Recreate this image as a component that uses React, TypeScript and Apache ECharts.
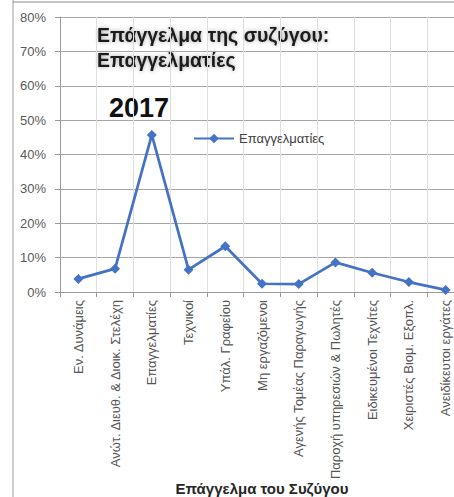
import React, { useEffect, useRef } from "react";
import * as echarts from "echarts";

const categories = [
  "Εν. Δυνάμεις",
  "Ανώτ. Διευθ. & Διοικ. Στελέχη",
  "Επαγγελματίες",
  "Τεχνικοί",
  "Υπάλ. Γραφείου",
  "Μη εργαζόμενοι",
  "Αγενής Τομέας Παραγωγής",
  "Παροχή υπηρεσιών & Πωλητές",
  "Ειδικευμένοι Τεχνίτες",
  "Χειριστές Βιομ. Εξοπλ.",
  "Ανειδίκευτοι εργάτες",
];
const seriesName = "Επαγγελματίες";
const values = [3.8, 6.8, 45.7, 6.5, 13.3, 2.4, 2.3, 8.6, 5.6, 2.9, 0.6];
const titleLines = ["Επάγγελμα της συζύγου:", "Επαγγελματίες"];
const yearLabel = "2017";
const xAxisName = "Επάγγελμα του Συζύγου";

export default function App() {
  const ref = useRef<HTMLDivElement>(null);
  useEffect(() => {
    document.body.style.margin = "0";
    document.body.style.overflow = "hidden";
    document.documentElement.style.overflow = "hidden";
    const chart = echarts.init(ref.current!, undefined, { renderer: "svg" });
    const font = "'Liberation Sans', Arial, sans-serif";
    chart.setOption({
      animation: false,
      backgroundColor: "#ffffff",
      textStyle: { fontFamily: font },
      grid: {
        left: 60,
        right: 0,
        top: 17,
        bottom: 205,
        containLabel: false,
        outerBoundsMode: "none",
      },
      legend: {
        left: 188,
        top: 127,
        itemWidth: 40,
        itemHeight: 12,
        itemGap: 4,
        textStyle: { fontSize: 13, color: "#404040", fontFamily: font },
        data: [seriesName],
      },
      xAxis: {
        type: "category",
        data: categories,
        boundaryGap: true,
        name: xAxisName,
        nameLocation: "middle",
        nameGap: 189,
        nameMoveOverlap: false,
        nameTextStyle: { fontSize: 15, fontWeight: "bold", color: "#262626", fontFamily: font },
        axisLine: { lineStyle: { color: "#9a9a9a", width: 1 } },
        axisTick: { show: true, length: 5, alignWithLabel: false, lineStyle: { color: "#9a9a9a" } },
        splitLine: { show: true, lineStyle: { color: "#dedede", width: 1 } },
        axisLabel: {
          rotate: 90,
          interval: 0,
          margin: 8,
          fontSize: 13,
          color: "#555555",
          fontFamily: font,
        },
      },
      yAxis: {
        type: "value",
        min: 0,
        max: 80,
        interval: 10,
        axisLine: { show: true, lineStyle: { color: "#9a9a9a" } },
        axisTick: { show: true, length: 5, lineStyle: { color: "#9a9a9a" } },
        splitLine: { show: true, lineStyle: { color: "#a6a6a6", width: 1 } },
        axisLabel: {
          formatter: "{value}%",
          fontSize: 13,
          color: "#595959",
          margin: 14,
          fontFamily: font,
        },
      },
      series: [
        {
          name: seriesName,
          type: "line",
          data: values,
          symbol: "diamond",
          symbolSize: 10,
          lineStyle: { color: "#4472c4", width: 2.75 },
          itemStyle: { color: "#4472c4" },
        },
      ],
      graphic: [
        { type: "line", shape: { x1: 13, y1: 0, x2: 13, y2: 497 }, style: { stroke: "#9a9a9a", lineWidth: 1 }, silent: true },
        { type: "line", shape: { x1: 13, y1: 2, x2: 464, y2: 2 }, style: { stroke: "#8a8a8a", lineWidth: 1 }, silent: true },
        {
          type: "text",
          left: 97,
          top: 25,
          style: {
            text: titleLines[0],
            fontSize: 19.5,
            fontWeight: "bold",
            fill: "#1a1a1a",
            fontFamily: font,
            textShadowColor: "rgba(0,0,0,0.35)",
            textShadowBlur: 4,
          },
        },
        {
          type: "text",
          left: 97,
          top: 50,
          style: {
            text: titleLines[1],
            fontSize: 19.5,
            fontWeight: "bold",
            fill: "#1a1a1a",
            fontFamily: font,
            textShadowColor: "rgba(0,0,0,0.35)",
            textShadowBlur: 4,
          },
        },
        {
          type: "text",
          left: 109,
          top: 94,
          style: {
            text: yearLabel,
            fontSize: 27,
            fontWeight: "bold",
            fill: "#111111",
            fontFamily: font,
          },
        },
      ],
    });
    return () => chart.dispose();
  }, []);
  return <div ref={ref} style={{ position: "absolute", left: 0, top: 0, width: 464, height: 497 }} />;
}
